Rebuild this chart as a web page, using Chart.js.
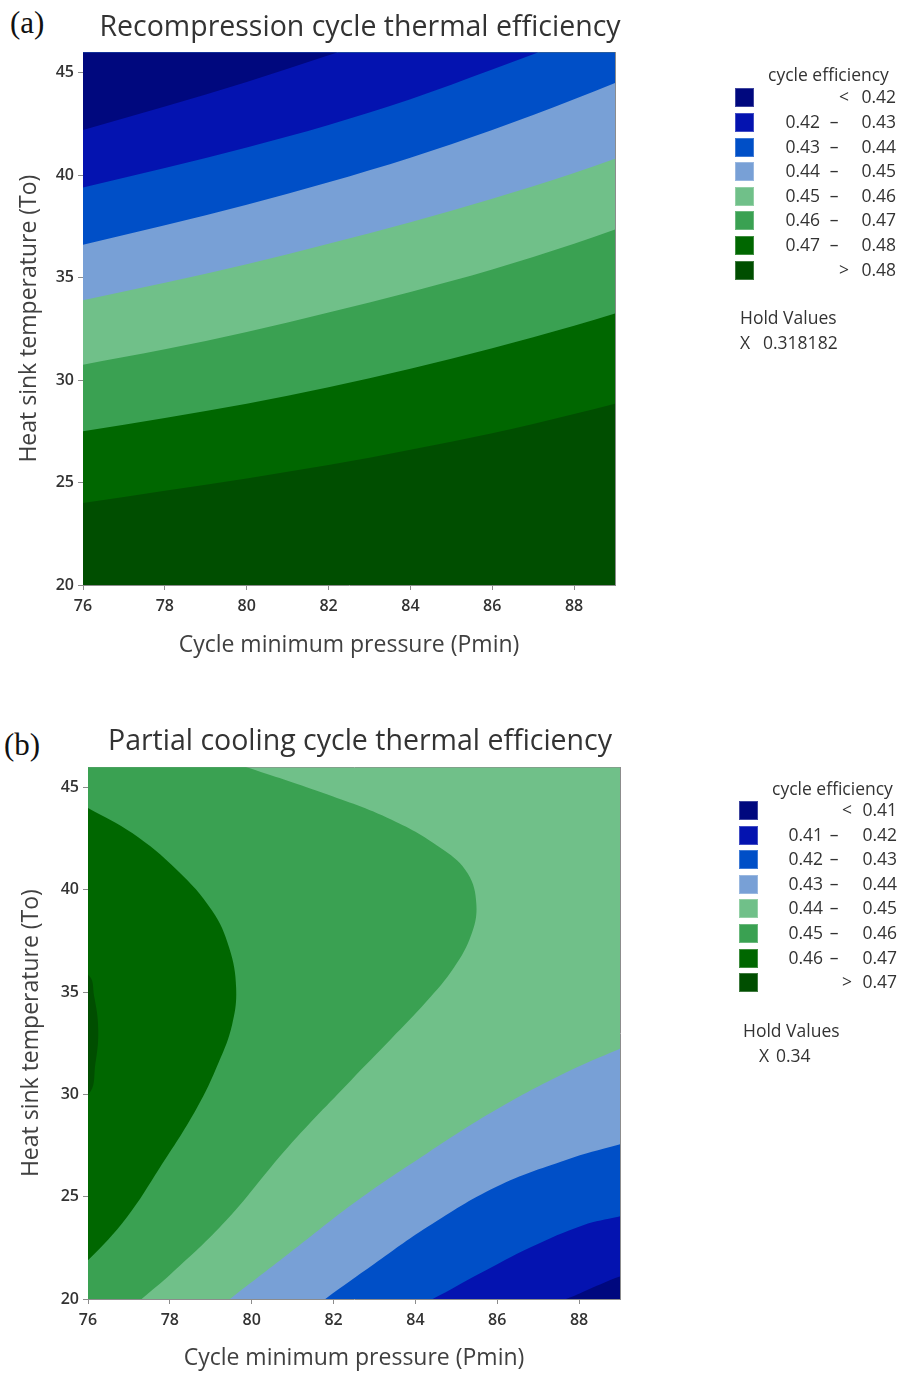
<!DOCTYPE html>
<html>
<head>
<meta charset="utf-8">
<script src="https://cdn.jsdelivr.net/npm/chart.js@4.4.1/dist/chart.umd.min.js"></script>
<style>
html,body{margin:0;padding:0;background:#fff;}
body{width:901px;height:1375px;position:relative;overflow:hidden;font-family:"Open Sans",sans-serif;color:#333;}
.panel{position:absolute;left:0;width:901px;}
canvas{display:block;}
.tag{position:absolute;font-family:"Liberation Serif","DejaVu Serif",serif;font-size:31px;color:#111;line-height:1;}
.lg{position:absolute;font-size:17.5px;color:#333;line-height:1;white-space:nowrap;}
.sw{position:absolute;width:19px;height:19px;box-sizing:border-box;}
</style>
</head>
<body>
<div class="tag" style="left:10px;top:7px;">(a)</div>
<div class="tag" style="left:4px;top:729px;">(b)</div>
<div class="panel" style="top:0;height:680px;"><canvas id="ca" width="901" height="680"></canvas></div>
<div class="panel" style="top:715px;height:660px;"><canvas id="cb" width="901" height="660"></canvas></div>
<div id="legA"></div>
<div id="legB"></div>
<script>
// ---------- shared axes ----------
const xTicks = [76, 78, 80, 82, 84, 86, 88];
const yTicks = [20, 25, 30, 35, 40, 45];
const xRange = [76, 89];
const yRange = [20, 46];
const palette = ['#00087e', '#0413b0', '#004fc7', '#78a0d6', '#70c089', '#3aa152', '#006700', '#004e00'];

// ---------- panel (a): contour lines (temperature of each level at these pressures) ----------
const pressA = [76, 78, 80, 82, 84, 86, 88, 89];
const levelA042 = [42.2, 43.35, 44.55, 45.85, 47.2, 48.6, 50.0, 50.7];
const levelA043 = [39.4, 40.35, 41.35, 42.45, 43.7, 45.15, 46.65, 47.4];
const levelA044 = [36.6, 37.55, 38.55, 39.65, 40.85, 42.2, 43.7, 44.5];
const levelA045 = [33.9, 34.75, 35.65, 36.65, 37.7, 38.85, 40.1, 40.8];
const levelA046 = [30.75, 31.5, 32.35, 33.3, 34.3, 35.4, 36.65, 37.35];
const levelA047 = [27.5, 28.15, 28.85, 29.65, 30.55, 31.55, 32.65, 33.25];
const levelA048 = [24.0, 24.6, 25.2, 25.85, 26.6, 27.4, 28.35, 28.85];
const cutsA = ['0.42', '0.43', '0.44', '0.45', '0.46', '0.47', '0.48'];
const holdA = '0.318182';

// ---------- panel (b): closed regions [pressure, temperature] ----------
const regionB045 = [[74, 47.5], [78.3, 47.05], [79.8, 46.05], [81.73, 44.75], [83.42, 43.43], [84.69, 41.95], [85.28, 40.8], [85.49, 39.3], [85.37, 37.83], [84.94, 36.19], [84.27, 34.54], [83.4, 32.7], [82.43, 30.7], [80.9, 27.46], [79.38, 23.85], [78.03, 21.23], [77.31, 20.0], [76.6, 18.8], [74, 18.5]];
const regionB046 = [[75, 45.15], [76, 44.01], [77.08, 42.78], [78.18, 40.96], [79.03, 38.99], [79.45, 37.17], [79.62, 35.2], [79.52, 33.4], [79.2, 31.6], [78.65, 29.3], [77.75, 26.4], [76.95, 24.0], [76.0, 21.9], [75.3, 20.8]];
const regionB047 = [[75, 36.5], [76, 35.85], [76.15, 34.8], [76.25, 33.2], [76.18, 31.5], [76.0, 30.0], [75, 29.3]];
const regionB044 = [[78.5, 18.5], [79.47, 20.0], [80.9, 22.21], [82.6, 24.84], [84.29, 27.13], [85.98, 29.26], [87.68, 31.07], [88.96, 32.2], [90, 33.0], [90, 18.5]];
const regionB043 = [[80.9, 18.6], [81.8, 20.0], [83.0, 21.72], [84.29, 23.52], [85.98, 25.49], [87.68, 26.8], [88.96, 27.54], [90, 28.1], [90, 18.5]];
const regionB042 = [[83.6, 19.3], [84.42, 20.0], [85.56, 21.23], [86.83, 22.54], [88.1, 23.61], [88.96, 24.02], [90, 24.5], [90, 18.5]];
const regionB041 = [[86.8, 19.55], [87.68, 20.0], [88.35, 20.57], [88.96, 21.07], [90, 21.8], [90, 18.5]];
const cutsB = ['0.41', '0.42', '0.43', '0.44', '0.45', '0.46', '0.47'];
const holdB = '0.34';

// ---------- helpers ----------
const TXT = '#333333';
const AX = '#8c8c8c';
const FONT = 'Open Sans';
function band(xs, ys, color, order) {
  return {
    data: xs.map((x, i) => ({x: x, y: ys[i]})),
    fill: 'end', backgroundColor: color, borderColor: 'rgba(0,0,0,0)', borderWidth: 0,
    pointRadius: 0, cubicInterpolationMode: 'monotone', order: order
  };
}
function region(pts, color, order) {
  return {
    data: pts.map(p => ({x: p[0], y: p[1]})),
    fill: 'shape', backgroundColor: color, borderColor: 'rgba(0,0,0,0)', borderWidth: 0,
    pointRadius: 0, tension: 0.4, order: order
  };
}
function baseLayer(color) {
  return {
    data: [{x: xRange[0], y: yRange[0]}, {x: xRange[1], y: yRange[0]}],
    fill: 'end', backgroundColor: color, borderColor: 'rgba(0,0,0,0)', borderWidth: 0,
    pointRadius: 0, order: 100
  };
}
function makeChart(id, o) {
  return new Chart(document.getElementById(id), {
    type: 'line',
    data: {datasets: o.datasets},
    options: {
      responsive: false, animation: false, events: [],
      elements: {line: {capBezierPoints: false}},
      layout: {padding: {left: 0, right: 181, top: 0, bottom: 0}},
      plugins: {
        legend: {display: false}, tooltip: {enabled: false},
        title: {display: true, text: o.title, color: '#333',
          font: {family: FONT, size: 28.5, weight: 'normal', lineHeight: 1.2},
          padding: {top: o.tTop, bottom: o.tBottom}}
      },
      scales: {
        x: {type: 'linear', position: 'bottom', min: xRange[0], max: xRange[1],
          afterBuildTicks: s => { s.ticks = xTicks.map(v => ({value: v})); },
          afterFit: s => { s.height = o.xH; },
          grid: {drawOnChartArea: false, drawTicks: true, tickLength: 5, color: AX},
          border: {display: true, color: AX, width: 1},
          ticks: {color: TXT, padding: 7, font: {family: FONT, size: 16, weight: '600'}},
          title: {display: true, text: 'Cycle minimum pressure (Pmin)', color: '#404040',
            font: {family: FONT, size: 23, lineHeight: 1.2}, padding: {top: 0, bottom: o.xtPad}}},
        y: {type: 'linear', position: 'left', min: yRange[0], max: yRange[1],
          afterBuildTicks: s => { s.ticks = yTicks.map(v => ({value: v})); },
          afterFit: s => { s.width = o.yW; },
          grid: {drawOnChartArea: false, drawTicks: true, tickLength: 5, color: AX},
          border: {display: true, color: AX, width: 1},
          ticks: {color: TXT, padding: 4, font: {family: FONT, size: 16, weight: '600'}},
          title: {display: true, text: 'Heat sink temperature (To)', color: '#404040',
            font: {family: FONT, size: 23, lineHeight: 1.2}, padding: {top: o.ytPad, bottom: 0}}},
        x2: {type: 'linear', position: 'top', min: xRange[0], max: xRange[1],
          afterFit: s => { s.height = 0; },
          grid: {display: false}, ticks: {display: false},
          border: {display: true, color: AX, width: 1}},
        y2: {type: 'linear', position: 'right', min: yRange[0], max: yRange[1],
          afterFit: s => { s.width = o.rW; },
          grid: {display: false}, ticks: {display: false},
          border: {display: true, color: AX, width: 1}}
      }
    }
  });
}

// ---------- chart (a) ----------
makeChart('ca', {
  title: 'Recompression cycle thermal efficiency', tTop: 11, tBottom: 7,
  xH: 95, xtPad: 21, yW: 83, ytPad: 16, rW: 105,
  datasets: [
    band(pressA, levelA042, palette[0], 1),
    band(pressA, levelA043, palette[1], 2),
    band(pressA, levelA044, palette[2], 3),
    band(pressA, levelA045, palette[3], 4),
    band(pressA, levelA046, palette[4], 5),
    band(pressA, levelA047, palette[5], 6),
    band(pressA, levelA048, palette[6], 7),
    baseLayer(palette[7])
  ]
});

// ---------- chart (b) ----------
makeChart('cb', {
  title: 'Partial cooling cycle thermal efficiency', tTop: 10, tBottom: 8,
  xH: 76, xtPad: 3, yW: 88, ytPad: 18, rW: 100,
  datasets: [
    region(regionB041, palette[0], 1),
    region(regionB042, palette[1], 2),
    region(regionB043, palette[2], 3),
    region(regionB044, palette[3], 4),
    region(regionB047, palette[7], 5),
    region(regionB046, palette[6], 6),
    region(regionB045, palette[5], 7),
    baseLayer(palette[4])
  ]
});

// ---------- HTML legends ----------
function legend(hostId, cuts, hold, L) {
  const host = document.getElementById(hostId);
  const dy = 9.5;
  let h = '';
  h += `<div class="lg" style="left:${L.titleX}px;top:${L.titleY - dy}px;">cycle efficiency</div>`;
  const n = cuts.length + 1;
  for (let i = 0; i < n; i++) {
    const cy = L.row0 + i * L.step;
    h += `<div class="sw" style="left:${L.swX}px;top:${cy - 9.5}px;background:${palette[i]};border:1px solid rgba(255,255,255,0.25);"></div>`;
    const ty = cy - dy;
    if (i === 0 || i === n - 1) {
      const sym = i === 0 ? '&lt;' : '&gt;';
      const v = i === 0 ? cuts[0] : cuts[cuts.length - 1];
      h += `<div class="lg" style="left:${L.symX - 6}px;top:${ty}px;width:12px;text-align:center;">${sym}</div>`;
      h += `<div class="lg" style="left:${L.hiR - 60}px;top:${ty}px;width:60px;text-align:right;">${v}</div>`;
    } else {
      h += `<div class="lg" style="left:${L.loR - 60}px;top:${ty}px;width:60px;text-align:right;">${cuts[i - 1]}</div>`;
      h += `<div class="lg" style="left:${L.dashX - 7}px;top:${ty}px;width:14px;text-align:center;">–</div>`;
      h += `<div class="lg" style="left:${L.hiR - 60}px;top:${ty}px;width:60px;text-align:right;">${cuts[i]}</div>`;
    }
  }
  h += `<div class="lg" style="left:${L.hvX}px;top:${L.hvY - dy}px;">Hold Values</div>`;
  h += `<div class="lg" style="left:${L.xX}px;top:${L.xY - dy}px;">X</div>`;
  h += `<div class="lg" style="left:${L.xvX}px;top:${L.xY - dy}px;">${hold}</div>`;
  host.innerHTML = h;
}
legend('legA', cutsA, holdA, {titleX: 768, titleY: 75, swX: 735, row0: 97.7, step: 24.65,
  symX: 844, loR: 820, dashX: 834, hiR: 896, hvX: 740, hvY: 318, xX: 740, xY: 343, xvX: 763});
legend('legB', cutsB, holdB, {titleX: 772, titleY: 789, swX: 739, row0: 810.5, step: 24.6,
  symX: 847, loR: 823, dashX: 834, hiR: 897, hvX: 743, hvY: 1031, xX: 759, xY: 1056, xvX: 776});
</script>
</body>
</html>
